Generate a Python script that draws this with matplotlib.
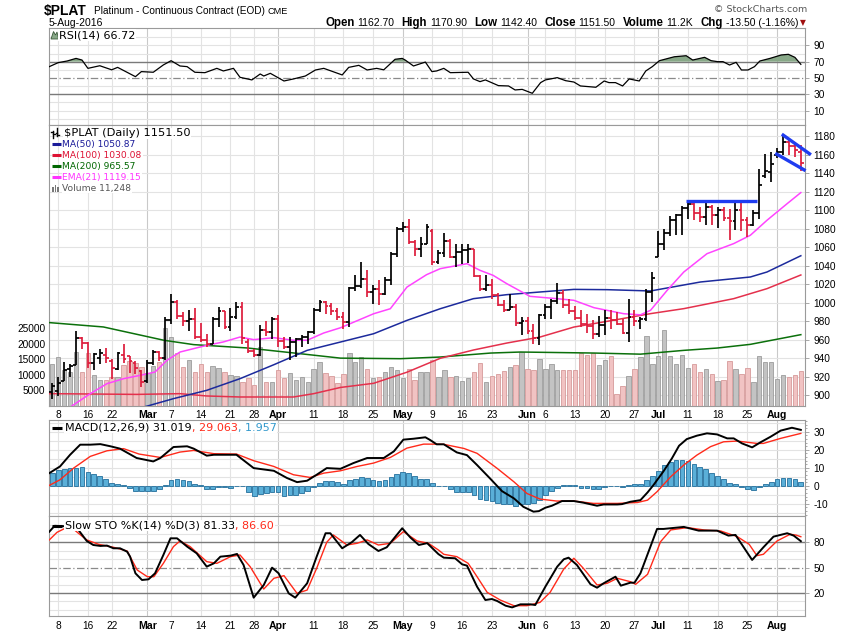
import matplotlib
matplotlib.use('Agg')
import matplotlib.pyplot as plt
import matplotlib.transforms as mtrans
from matplotlib.patches import Polygon, Rectangle
from matplotlib.lines import Line2D
import numpy as np

plt.rcParams['font.family'] = ['DejaVu Sans']

# ---------------------------------------------------------------- data
# bar index: 0 = 8-Feb-2016 (first bar is 5-Feb = -1), last = 5-Aug-2016 (125)
first_bar = -1
opens = [904, 905, 915, 928, 933, 962, 957, 935, 940, 944, 937, 928, 944, 942, 935, 926, 915, 935, 947, 940,
         981, 1001, 986, 980, 982, 963, 960, 956, 982, 991, 974, 985, 995, 958, 948, 944, 971, 968, 983, 959,
         952, 958, 961, 963, 968, 992, 1001, 997, 991, 985, 979, 1016, 1018, 1026, 1012, 1015, 1010, 1025, 1053, 1080,
         1082, 1066, 1058, 1064, 1078, 1044, 1054, 1067, 1050, 1055, 1057, 1058, 1029, 1015, 1019, 1008, 998, 992, 996, 978,
         980, 970, 962, 987, 995, 1002, 1011, 998, 991, 984, 977, 975, 966, 976, 984, 981, 977, 967, 985, 980,
         982, 1012, 1050, 1064, 1075, 1090, 1095, 1103, 1107, 1097, 1093, 1104, 1095, 1100, 1092, 1088, 1100, 1090, 1084, 1097,
         1137, 1141, 1160, 1163, 1174, 1170, 1162.7]
highs = [913, 920, 936, 934, 969, 963, 958, 946, 950, 951, 939, 947, 956, 943, 937, 927, 938, 949, 948, 985,
         1010, 1003, 990, 992, 994, 978, 966, 985, 996, 991, 994, 1001, 1001, 961, 950, 976, 980, 985, 987, 963,
         963, 962, 965, 970, 994, 1003, 1002, 1000, 994, 990, 1017, 1030, 1044, 1035, 1019, 1025, 1028, 1055, 1082, 1087,
         1091, 1068, 1071, 1085, 1080, 1057, 1075, 1069, 1064, 1064, 1064, 1058, 1030, 1030, 1026, 1011, 1003, 1010, 999, 985,
         985, 977, 988, 999, 1004, 1021, 1014, 1004, 997, 992, 988, 981, 986, 992, 992, 990, 982, 1004, 992, 985,
         1015, 1033, 1078, 1080, 1094, 1096, 1105, 1109, 1109, 1104, 1108, 1106, 1104, 1104, 1101, 1109, 1109, 1093, 1100, 1145,
         1161, 1163, 1167, 1183, 1176, 1174, 1170.9]
lows = [896, 899, 915, 920, 933, 950, 929, 927, 934, 935, 918, 927, 935, 924, 923, 909, 913, 933, 937, 938,
        977, 983, 975, 970, 961, 958, 952, 955, 974, 972, 970, 982, 956, 946, 941, 942, 964, 961, 952, 950,
        938, 941, 952, 956, 966, 990, 988, 987, 981, 972, 974, 1013, 1016, 1006, 999, 998, 1008, 1019, 1050, 1077,
        1064, 1051, 1049, 1064, 1041, 1042, 1049, 1048, 1039, 1042, 1043, 1028, 1013, 1013, 1004, 997, 990, 992, 975, 965,
        966, 956, 954, 983, 983, 999, 994, 988, 981, 974, 967, 961, 963, 965, 972, 976, 966, 958, 975, 972,
        980, 1001, 1049, 1057, 1072, 1073, 1073, 1091, 1089, 1087, 1084, 1084, 1081, 1088, 1068, 1079, 1078, 1071, 1083, 1091,
        1135, 1131, 1157, 1160, 1160, 1158, 1142.4]
closes = [910, 913, 927, 932, 962, 957, 935, 945, 946, 940, 930, 946, 939, 937, 930, 914, 935, 947, 940, 981,
          1001, 986, 980, 982, 963, 960, 956, 982, 991, 974, 985, 995, 962, 948, 944, 971, 968, 983, 959, 952,
          958, 961, 963, 968, 992, 1001, 997, 991, 985, 979, 1016, 1018, 1026, 1012, 1015, 1010, 1025, 1053, 1080, 1082,
          1066, 1058, 1064, 1082, 1044, 1054, 1067, 1050, 1055, 1057, 1058, 1029, 1015, 1019, 1008, 998, 992, 996, 978, 980,
          970, 962, 987, 995, 1002, 1011, 998, 991, 984, 977, 975, 966, 976, 984, 981, 977, 967, 985, 980, 982,
          1012, 1027, 1064, 1075, 1090, 1095, 1103, 1107, 1097, 1093, 1104, 1095, 1100, 1092, 1088, 1100, 1090, 1084, 1097, 1127,
          1142, 1150, 1163, 1174, 1170, 1165, 1151.5]
volume_k = [13.6, 15.8, 11.5, 10.9, 17.2, 10.9, 16.9, 9.8, 8.2, 8.2, 9.1, 9.1, 13.1, 14.4, 13.8, 12.5, 10.6, 12.8, 14.0, 25.0,
            22.1, 16.9, 12.5, 14.8, 10.9, 13.6, 11.0, 12.8, 12.1, 10.9, 9.8, 9.5, 7.5, 8.8, 6.8, 19.0, 7.7, 7.7, 11.5, 8.8,
            10.6, 8.4, 9.1, 7.5, 11.7, 14.1, 10.4, 9.5, 7.4, 10.3, 17.0, 14.2, 15.7, 12.0, 8.8, 9.3, 10.9, 12.4, 11.6, 8.8,
            12.0, 8.4, 10.9, 10.9, 14.8, 9.3, 11.6, 9.1, 9.5, 7.9, 9.0, 10.9, 13.9, 7.7, 9.5, 10.3, 11.1, 12.5, 13.1, 17.4,
            12.0, 11.6, 15.2, 12.0, 13.4, 11.6, 11.6, 11.6, 11.6, 17.0, 16.5, 17.0, 13.1, 14.9, 16.0, 3.8, 6.4, 9.5, 11.7, 15.6,
            22.5, 13.5, 16.0, 24.4, 16.0, 13.5, 16.3, 12.3, 13.6, 10.8, 11.7, 10.2, 7.9, 8.2, 14.5, 11.9, 10.2, 12.1, 7.7, 16.0,
            14.2, 14.2, 8.5, 9.8, 9.1, 9.8, 11.248]
macd_hist = [7.0, 8.9, 9.4, 9.8, 9.8, 10.4, 7.6, 6.5, 5.6, 3.9, 1.5, 1.1, 0.6, -1.3, -2.8, -2.8, -2.8, -2.8, -1.7, 0.6,
             3.1, 3.7, 3.3, 2.4, 1.1, 0.2, -1.7, -1.7, -0.9, -0.9, -1.3, -0.2, -0.3, -3.5, -5.6, -4.6, -4.1, -3.5, -3.7, -5.6,
             -5.0, -5.0, -4.1, -3.1, -0.9, 1.5, 2.8, 2.8, 1.9, 1.1, 3.0, 3.9, 4.6, 4.3, 3.3, 2.8, 3.0, 4.8, 6.7, 7.6,
             7.0, 5.2, 3.9, 3.9, 1.4, -0.2, -0.2, -1.9, -3.3, -3.3, -3.5, -5.2, -7.4, -8.0, -8.5, -9.8, -10.4, -10.4, -11.1, -10.4,
             -10.4, -9.8, -8.0, -5.2, -3.0, -1.1, 0.4, 0.4, 0.4, -1.1, -1.1, -1.9, -1.9, -0.6, -0.2, -0.2, -0.6, 0.4, 0.7, 0.7,
             3.0, 5.2, 8.3, 11.5, 13.3, 14.3, 14.3, 13.7, 11.9, 10.2, 9.1, 6.9, 5.6, 3.5, 1.3, 0.7, -0.9, -1.9, -2.6, -0.9,
             0.7, 1.9, 3.7, 4.1, 4.1, 3.5, 1.957]

# moving averages (bar index, value)
ma50_x = [14.5, 19.4, 25, 30.6, 36.3, 41.9, 47.5, 53.1, 58.7, 64.3, 69.9, 75.5, 81.1, 86.8, 92.4, 99.7, 108.1, 116.5, 119.3, 125]
ma50_v = [887.5, 896.4, 905.4, 918, 933.1, 948.6, 957.6, 966.6, 981, 993.6, 1004.5, 1008.8, 1011.7, 1014.5, 1014.2, 1012.8,
          1022.5, 1027.9, 1033.3, 1050.87]
ma100_x = [-1.5, 13.2, 20.5, 25, 30.6, 39.6, 43, 47.5, 53.1, 58.7, 64.3, 69.9, 75.5, 81.1, 86.8, 92.4, 99.7, 105.3, 113.7, 119.3, 125]
ma100_v = [901.8, 901, 901.8, 899.3, 898.2, 898.2, 901.8, 908.5, 913, 925, 940, 949, 956.5, 963, 973.8, 980, 988.3, 993.7,
           1004.5, 1015.3, 1030.08]
ma200_x = [-1.5, 7.6, 17.8, 22.8, 31.8, 39.6, 47.5, 57.6, 64.3, 72.8, 77.8, 90.2, 98, 105.3, 110.9, 116.5, 125]
ma200_v = [978.6, 973.9, 959.5, 954.8, 951.2, 945.8, 940.2, 939.6, 941.4, 945.7, 946.8, 945.7, 944.5, 948.6, 951.1, 955.1, 965.57]
ema21_x = [2.3, 5.4, 8.2, 11, 13.8, 16.3, 18.3, 20.5, 25, 27.8, 30.6, 32.9, 36.3, 39.6, 41.9, 44.7, 47.5, 53.1, 55.9, 58.7,
           62, 64.3, 68.8, 71, 73.2, 75.5, 79.4, 83.9, 86.8, 90.2, 95.2, 98, 99.7, 102.5, 105.3, 109.2, 113.7, 116.5, 119.3,
           122.7, 125]
ema21_v = [888.5, 901.8, 912.6, 918, 921.6, 925.2, 937.8, 946.8, 954, 957.7, 963, 960.2, 962.3, 959.5, 959.5, 967.4, 973,
           988.2, 993.6, 1017, 1030.4, 1036.9, 1042.3, 1035.1, 1029.7, 1020.7, 1007, 1004.5, 1002.7, 994.7, 988.2, 987,
           991.9, 1013.5, 1033.3, 1053.1, 1064, 1073, 1089.2, 1107.2, 1119.15]

# drawn trend lines (bar index pairs, price pairs)
trend_x = [[105.7, 117.7], [121.8, 126.7], [120.7, 125.8]]
trend_y = [[1110, 1110], [1182.3, 1160], [1161.6, 1142.8]]

rsi_x = [-1.5, 0, 1.5, 3, 4, 5, 7, 9, 10, 13, 14, 16, 17.7, 19, 20.5, 21.7, 23, 24.7, 26.7, 27.8, 29.5, 30.6, 32.6, 34,
         34.6, 35.7, 38, 39.6, 41.6, 43.3, 44.7, 47.8, 48.9, 50.6, 52, 53.6, 54.8, 56.7, 57.9, 58.4, 59.8, 61.8, 62.9,
         63.7, 64.9, 66, 69, 69.9, 71, 71.9, 74.1, 75.8, 76.9, 78.1, 79.8, 81.2, 82, 84, 85.4, 86.8, 87.9, 90.5, 91.9,
         92.7, 93.8, 95, 96.1, 97.8, 98.9, 100, 101.2, 103.7, 105.7, 106.8, 108.8, 109.9, 111, 111.9, 113, 114.1, 115,
         116.1, 117.2, 118.1, 119.8, 121.7, 122.9, 124, 125]
rsi_v = [63.9, 68.8, 70.8, 74, 72, 61.8, 65, 60, 63, 51.6, 57.8, 57, 66, 71.2, 64.7, 63.9, 57, 56.5, 61.8, 58.6, 61.8,
         50.8, 47.6, 54.9, 52.4, 55.7, 46.3, 48.8, 52.4, 59.8, 61.8, 53.7, 63, 65.5, 59.8, 61.8, 60, 72.9, 74, 72, 64.7,
         69.5, 57.8, 58.6, 61.8, 56.5, 57, 48.8, 45.5, 47.6, 40.6, 40.2, 35.3, 36, 31.2, 44.3, 47.6, 50.4, 46.7, 45, 40.2,
         38.6, 46.3, 44.3, 44.3, 40.2, 48.8, 46.3, 58.6, 63.9, 71.2, 76, 77.3, 72, 75.3, 71.2, 70, 70, 65.9, 69.2, 59.8,
         59.8, 63.9, 70.8, 74, 78.2, 79, 75.3, 66.72]

macd_x = [-1.5, 0.3, 2, 3.7, 5.4, 7.1, 8.8, 10.4, 13.2, 16, 17.2, 19.4, 21.7, 22.8, 25, 26.2, 30, 32.9, 36.3, 38.5, 40.2,
          41.9, 43.5, 45.2, 47.5, 49.7, 52, 54.8, 56.5, 58.1, 59.8, 61.8, 62.6, 63.7, 64.9, 67.1, 68.8, 70.5, 72.7, 74.7,
          76.7, 78.3, 80, 80.9, 82, 83.1, 84.8, 86.8, 88.4, 90.7, 91.8, 94.1, 94.9, 96.3, 98, 99.2, 100.2, 101.9, 103.3,
          104.5, 105.8, 107.5, 109.2, 110.9, 112.6, 113.7, 115.1, 116.8, 118.2, 119.9, 121.6, 123.5, 125]
macd_v = [7.0, 10.7, 17.2, 22.8, 22.8, 23.1, 21.9, 20.6, 15.4, 13.5, 15.4, 21.5, 21.9, 20.6, 16.7, 17.2, 17.2, 9.8, 8.3,
          4.3, 2.0, 2.8, 6.1, 9.8, 9.4, 12.6, 15.4, 15.4, 19.1, 25.6, 26.1, 26.9, 25.4, 23.0, 23.0, 18.5, 17.0, 11.5, 4.0,
          -3.0, -7.0, -11.7, -14.4, -14.1, -12.2, -11.1, -8.5, -8.5, -9.4, -11.1, -10.4, -10.4, -10.2, -8.9, -8.0, -3.7,
          0.4, 8.1, 15.2, 22.2, 25.9, 27.8, 29.1, 28.5, 26.3, 26.3, 23.5, 21.3, 24.1, 27.2, 30.6, 32.2, 31.02]
sig_x = [-1.5, 0.3, 2.6, 5.4, 8.2, 11, 13.6, 17.2, 20.5, 22.8, 26.2, 30, 32.9, 36.3, 39.6, 42.4, 44.7, 47.5, 50.3, 53.1,
         55.9, 58.7, 61.5, 63.7, 64.9, 68.3, 70.5, 73.9, 76.7, 78.9, 81.1, 83.9, 86.8, 90.1, 94.1, 97.5, 99.2, 100.8, 103.1,
         105.3, 107.5, 109.8, 112, 114.3, 117.6, 118.7, 121.6, 125]
sig_v = [0.2, 3.3, 9.8, 16.3, 19.4, 20.6, 17.6, 15.7, 18.7, 19.6, 17.8, 17.6, 13.9, 10.7, 6.1, 4.6, 7.0, 8.3, 10.7, 12.6,
         15.7, 20.9, 23.1, 23.1, 23.0, 20.7, 18.0, 9.6, 2.2, -4.3, -7.4, -8.5, -8.5, -9.8, -9.8, -9.3, -8.0, -3.3, 5.0,
         11.5, 17.0, 21.7, 24.4, 24.8, 23.5, 23.5, 26.3, 29.06]

stok_x = [-1.5, -0.6, 1.0, 2.5, 3.4, 4.8, 5.9, 7.1, 8.2, 9.3, 10.4, 11.6, 12.1, 13, 14.1, 15.2, 16.3, 17.7, 18.9, 20,
          21.7, 23.3, 25, 26.2, 27.3, 29, 30.1, 31.2, 32.9, 34.6, 36, 37.1, 38.8, 39.9, 41.9, 43.5, 45, 45.8, 47.8, 49.4,
          50.8, 52.2, 53.9, 55.3, 57.9, 59.3, 60.7, 62.1, 64, 64.9, 66.8, 68, 68.8, 70.5, 71.9, 73, 73.9, 75.3, 76.4, 77.8,
          79.5, 80.3, 82, 84, 85.1, 85.9, 87.3, 89.6, 90.7, 91.8, 93.8, 94.7, 96.3, 97, 98, 100.8, 101.9, 105.3, 107.8,
          110.9, 112.8, 114, 116.8, 118.7, 120.4, 122.7, 123.8, 125]
stok_v = [92.5, 99.5, 99, 97, 94.6, 81.6, 76.8, 75.7, 76.1, 72.9, 72.9, 68.9, 63, 43.3, 35.4, 36.2, 43.3, 65, 84.7, 84.7,
          74.9, 67, 51.2, 55.1, 63, 64.2, 66.2, 53.2, 14.5, 29.5, 50, 43.3, 19.6, 14.5, 31.5, 63, 90.7, 90.7, 72.9, 80,
          88.7, 78, 69.7, 74.1, 96.6, 85.5, 76.8, 79, 66, 61.8, 61.1, 53.9, 52.4, 27.5, 11.7, 12.9, 10.5, 5, 3, 6.6,
          6.6, 5.8, 27.5, 51.2, 59.9, 61.8, 53.2, 30.3, 26.3, 31.5, 39.3, 28.7, 32.2, 32.2, 43.3, 95.8, 95.8, 98.2, 93.8,
          93.8, 87.9, 88.7, 59.1, 74.1, 86.7, 90.7, 87.9, 81.33]
stod_x = [-1.5, -0.2, 1.0, 2.5, 3.4, 4.8, 6.8, 9.3, 11.6, 13.3, 15, 16.1, 17.7, 19.4, 20.5, 22.2, 25, 26.7, 29, 30.6,
          32.3, 34.6, 36.3, 38, 40.2, 41.9, 43.5, 45.2, 46.3, 48.6, 50.3, 52, 53.9, 55.9, 58.1, 60.4, 62.3, 64, 64.9, 67.1,
          69, 70.5, 72.2, 74.4, 76.7, 78.9, 81.1, 82.8, 85.1, 86.8, 88.4, 90.7, 92.4, 94.1, 96.3, 97.2, 99.2, 101.4, 103.1,
          105.9, 108.7, 111.5, 114.3, 116.3, 117.6, 118.7, 121, 123.2, 124.2, 125]
stod_v = [82.8, 91.8, 96, 96, 90.7, 82.8, 77.6, 74.1, 69.7, 47.2, 39.3, 39.3, 55.1, 74.9, 81.6, 74.9, 57.1, 55.1, 63, 65,
          51.2, 24.7, 37.4, 40.5, 19.6, 23.5, 49.2, 80, 88.7, 76.8, 78.8, 82.8, 76.8, 78.8, 92.6, 81.6, 78.8, 70.9, 65.8, 63,
          55.1, 39.3, 20.8, 11.7, 5, 5, 8.9, 20.8, 48.4, 61.1, 49.2, 29.5, 31.5, 37.4, 33.4, 30.3, 42.1, 80.8, 94.6,
          97.4, 94.6, 93.4, 86.7, 77.6, 64.2, 65.8, 81.6, 89.5, 88.5, 86.6]

date_tick_idx = [0, 5, 9, 15, 19, 24, 29, 33, 37, 43, 48, 53, 58, 63, 68, 73, 79, 82, 87, 92, 97, 101, 106, 111, 116, 121]
date_tick_lbl = ['8', '16', '22', 'Mar', '7', '14', '21', '28', 'Apr', '11', '18', '25', 'May', '9', '16', '23',
                 'Jun', '6', '13', '20', '27', 'Jul', '11', '18', '25', 'Aug']
month_lbls = ['Mar', 'Apr', 'May', 'Jun', 'Jul', 'Aug']

price_ticks = [900, 920, 940, 960, 980, 1000, 1020, 1040, 1060, 1080, 1100, 1120, 1140, 1160, 1180]
vol_ticks = [5000, 10000, 15000, 20000, 25000]
rsi_ticks = [10, 30, 50, 70, 90]
macd_ticks = [-10, 0, 10, 20, 30]
sto_ticks = [20, 50, 80]

# ---------------------------------------------------------------- layout
W, H = 850, 638
fig = plt.figure(figsize=(8.5, 6.38), dpi=100)
fig.patch.set_facecolor('white')
LEFT, RIGHT = 49, 805


def rect(top, bot):
    return [LEFT / W, 1 - bot / H, (RIGHT - LEFT) / W, (bot - top) / H]


ax_r = fig.add_axes(rect(28, 125))
ax_v = fig.add_axes(rect(125, 405.5))
ax_p = fig.add_axes(rect(125, 405.5))
ax_m = fig.add_axes(rect(420, 516))
ax_s = fig.add_axes(rect(516, 616))

XLIM = (-1.55, 125.7)
n = len(closes)
x = np.arange(first_bar, first_bar + n)
O = np.array(opens, float); Hh = np.array(highs, float); Lw = np.array(lows, float); C = np.array(closes, float)
up = np.concatenate([[True], C[1:] >= C[:-1]])

GRID = '#e3e3e3'
GRID_M = '#c9c9c9'
SPINE = '#9a9a9a'
TICKF = dict(family=['Liberation Sans', 'DejaVu Sans'], size=7.3)


def vgrid(ax):
    for xi, lb in zip(date_tick_idx, date_tick_lbl):
        ax.axvline(xi, color=GRID_M if lb in month_lbls else GRID, lw=0.8, zorder=0)


def style(ax, ylim, yticks, show_dates=False):
    ax.set_xlim(*XLIM)
    ax.set_ylim(*ylim)
    for s in ax.spines.values():
        s.set_color(SPINE)
        s.set_linewidth(0.8)
    ax.yaxis.tick_right()
    ax.set_yticks(yticks)
    ax.set_yticklabels([str(t) for t in yticks], fontdict=TICKF)
    ax.tick_params(axis='y', length=3, width=0.6, color=SPINE, pad=3, labelsize=7.3)
    ax.set_xticks(date_tick_idx)
    if show_dates:
        ax.set_xticklabels(date_tick_lbl, fontdict=TICKF)
        for t in ax.get_xticklabels():
            if t.get_text() in month_lbls:
                t.set_fontweight('bold')
                t.set_fontsize(7.6)
        ax.tick_params(axis='x', length=0, pad=3.5)
    else:
        ax.set_xticklabels([])
        ax.tick_params(axis='x', length=0)


# ---------------------------------------------------------------- RSI panel
style(ax_r, (-7.7, 111.3), rsi_ticks)
vgrid(ax_r)
for lv in range(0, 101, 10):
    if lv not in (30, 50, 70):
        ax_r.axhline(lv, color=GRID, lw=0.8, zorder=0)
ax_r.axhline(70, color='#7a7a7a', lw=1.0, zorder=1)
ax_r.axhline(30, color='#7a7a7a', lw=1.0, zorder=1)
ax_r.axhline(50, color='#8a8a8a', lw=0.9, ls=(0, (6, 2, 1, 2)), zorder=1)
rx = np.array(rsi_x); rv = np.array(rsi_v)
ax_r.fill_between(rx, 70, rv, where=rv >= 70, interpolate=True, facecolor='#88a888', edgecolor='none', zorder=2)
ax_r.plot(rx, rv, color='black', lw=0.9, zorder=3)

# ---------------------------------------------------------------- price panel
ax_v.set_xlim(*XLIM)
ax_v.set_ylim(0, 91000)
for s in ax_v.spines.values():
    s.set_visible(False)
ax_v.set_xticks([])
ax_v.yaxis.tick_left()
ax_v.set_yticks(vol_ticks)
ax_v.set_yticklabels([str(t) for t in vol_ticks], fontdict=TICKF)
ax_v.tick_params(axis='y', length=0, pad=2.5, labelsize=7.3)
vgrid(ax_v)
blend = mtrans.blended_transform_factory(ax_v.transAxes, ax_p.transData)
for pt in price_ticks:
    ax_v.plot([0, 1], [pt, pt], transform=blend, color=GRID, lw=0.8, zorder=0)
vol = np.array(volume_k) * 1000
ax_v.bar(x, vol, width=0.74, color=np.where(up, '#c3c3c3', '#f1c3c3'),
         edgecolor=np.where(up, '#9c9c9c', '#d69a9a'), linewidth=0.6, zorder=2)

ax_p.set_zorder(ax_v.get_zorder() + 1)
ax_p.patch.set_visible(False)
style(ax_p, (889.0, 1192.2), price_ticks, show_dates=True)
ax_p.plot(ma200_x, ma200_v, color='#0b700b', lw=1.1, zorder=3)
ax_p.plot(ma100_x, ma100_v, color='#e4304c', lw=1.1, zorder=3)
ax_p.plot(ma50_x, ma50_v, color='#1c2a9c', lw=1.1, zorder=3)
ax_p.plot(ema21_x, ema21_v, color='#ff44ff', lw=1.1, zorder=3)
bcol = np.where(up, '#000000', '#dd1c3c')
ax_p.vlines(x, Lw, Hh, colors=bcol, lw=1.25, zorder=4)
ax_p.hlines(O, x - 0.48, x, colors=bcol, lw=1.25, zorder=4)
ax_p.hlines(C, x, x + 0.48, colors=bcol, lw=1.25, zorder=4)
for tx, ty in zip(trend_x, trend_y):
    ax_p.plot(tx, ty, color='#1f3cf0', lw=2.4, solid_capstyle='butt', zorder=5, clip_on=False)

# ---------------------------------------------------------------- MACD panel
style(ax_m, (-16.8, 36.5), macd_ticks)
vgrid(ax_m)
for lv in range(-15, 36, 5):
    ax_m.axhline(lv, color=GRID, lw=0.8, zorder=0)
ax_m.bar(x, macd_hist, width=0.8, color='#5aafd8', edgecolor='#236f9c', linewidth=0.6, zorder=2)
ax_m.plot(sig_x, sig_v, color='#ff2a1a', lw=1.0, zorder=3)
ax_m.plot(macd_x, macd_v, color='black', lw=1.4, zorder=4)
ax_m.yaxis.set_minor_locator(matplotlib.ticker.MultipleLocator(2))
ax_m.tick_params(axis='y', which='minor', length=1.5, color=SPINE)

# ---------------------------------------------------------------- Slow STO panel
style(ax_s, (-7.2, 111.1), sto_ticks, show_dates=True)
vgrid(ax_s)
for lv in range(0, 101, 10):
    if lv not in (20, 50, 80):
        ax_s.axhline(lv, color=GRID, lw=0.8, zorder=0)
ax_s.axhline(80, color='#7a7a7a', lw=1.0, zorder=1)
ax_s.axhline(20, color='#7a7a7a', lw=1.0, zorder=1)
ax_s.axhline(50, color='#8a8a8a', lw=0.9, ls=(0, (6, 2, 1, 2)), zorder=1)
ax_s.plot(stod_x, stod_v, color='#ff2a1a', lw=1.0, zorder=3)
ax_s.plot(stok_x, stok_v, color='black', lw=1.4, zorder=4)

# ---------------------------------------------------------------- text
fig.canvas.draw()
renderer = fig.canvas.get_renderer()
LIB = ['Liberation Sans', 'DejaVu Sans']
DV = ['DejaVu Sans']
WB = dict(facecolor='white', edgecolor='none', pad=0.6)


def ftxt(xp, yp, s, **kw):
    return fig.text(xp / W, 1 - yp / H, s, **kw)


def seq(x0, yp, parts, align='left', **common):
    xp = x0
    items = parts if align == 'left' else list(reversed(parts))
    for s, kw, gap in items:
        if align == 'left':
            t = ftxt(xp, yp, s, ha='left', **{**common, **kw})
            xp += t.get_window_extent(renderer).width + gap
        else:
            xp -= gap
            t = ftxt(xp, yp, s, ha='right', **{**common, **kw})
            xp -= t.get_window_extent(renderer).width
    return xp


def fig_line(x0, x1, y0, y1, **kw):
    fig.add_artist(Line2D([x0 / W, x1 / W], [1 - y0 / H, 1 - y1 / H], transform=fig.transFigure, **kw))


# header
ftxt(44, 15, '$PLAT', family=LIB, fontsize=10, fontweight='bold', va='baseline')
ftxt(94, 14.5, 'Platinum - Continuous Contract (EOD)', family=LIB, fontsize=7.2, va='baseline')
ftxt(268, 14.5, 'CME', family=LIB, fontsize=6.6, va='baseline')
ftxt(49, 25.7, '5-Aug-2016', family=LIB, fontsize=7.5, va='baseline')
ftxt(807, 9.5, '\u00a9 StockCharts.com', family=DV, fontsize=6.8, color='#555555', ha='right', va='center')
B = dict(fontweight='bold', fontsize=8.3)
Nn = dict(fontsize=7.5)
hdr = [('Open', B, 3), ('1162.70', Nn, 7), ('High', B, 3), ('1170.90', Nn, 7), ('Low', B, 3), ('1142.40', Nn, 7),
       ('Close', B, 3), ('1151.50', Nn, 7), ('Volume', B, 3), ('11.2K', Nn, 7), ('Chg', B, 3),
       ('-13.50 (-1.16%)', Nn, 0)]
seq(798, 25.7, hdr, align='right', family=LIB, va='baseline')
ftxt(802.5, 25.2, '\u25bc', family=DV, fontsize=5.5, color='#a01010', ha='center', va='baseline')

# RSI legend
fig.add_artist(Polygon([[51 / W, 1 - 39 / H], [53.5 / W, 1 - 31.5 / H], [55.5 / W, 1 - 35 / H], [57 / W, 1 - 32 / H],
                        [58.5 / W, 1 - 39 / H]], closed=True, transform=fig.transFigure,
                       facecolor='#88a888', edgecolor='#3a5a3a', lw=0.6))
ftxt(59, 35, 'RSI(14) 66.72', family=DV, fontsize=8, va='center', bbox=WB)

# price legend
for xo, (a, b, c) in zip([53, 57.5], [(131, 138, 133), (128, 136, 134)]):
    fig_line(xo, xo, a, b, color='black', lw=1)
    fig_line(xo - 1.8, xo, c - 1, c - 1, color='black', lw=1)
    fig_line(xo, xo + 1.8, c + 1, c + 1, color='black', lw=1)
ftxt(64, 133.3, '$PLAT (Daily) 1151.50', family=DV, fontsize=8.2, va='center', bbox=WB)
leg = [('MA(50) 1050.87', '#1a1a99', 144.3), ('MA(100) 1030.08', '#dd1133', 155.3),
       ('MA(200) 965.57', '#006600', 166.2), ('EMA(21) 1119.15', '#ff33ff', 177.3)]
for s, col, yy in leg:
    fig_line(51.5, 61, yy, yy, color=col, lw=2.2, solid_capstyle='butt')
    ftxt(62.5, yy, s, family=DV, fontsize=6.6, color=col, va='center', bbox=WB)
for bx, bh in zip([52, 54.5, 57], [5, 7, 4]):
    fig.add_artist(Rectangle((bx / W, 1 - 191.5 / H), 1.8 / W, bh / H, transform=fig.transFigure,
                             facecolor='#777777', edgecolor='none'))
ftxt(62.5, 188, 'Volume 11,248', family=DV, fontsize=6.6, color='#555555', va='center', bbox=WB)

# MACD legend
fig_line(51.5, 61.5, 427.7, 427.7, color='black', lw=2.2, solid_capstyle='butt')
seq(65, 427.7, [('MACD(12,26,9) 31.019', dict(color='black'), 0), (', 29.063', dict(color='#ff2a1a'), 0),
                (', 1.957', dict(color='#3399cc'), 0)], family=DV, fontsize=8, va='center', bbox=WB)

# STO legend
fig_line(51.5, 61.5, 525.7, 525.7, color='black', lw=2.2, solid_capstyle='butt')
seq(65, 525.7, [('Slow STO %K(14) %D(3) 81.33', dict(color='black'), 0), (', 86.60', dict(color='#ff2a1a'), 0)],
    family=DV, fontsize=8, va='center', bbox=WB)

fig.savefig('out.png', dpi=100, facecolor='white')
